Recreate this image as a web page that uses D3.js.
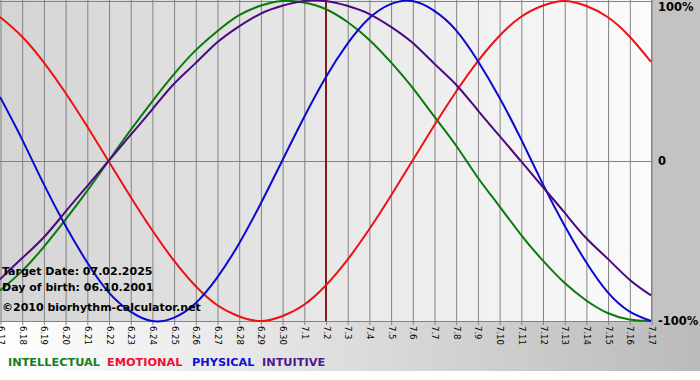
<!DOCTYPE html>
<html><head><meta charset="utf-8">
<script src="https://cdn.jsdelivr.net/npm/d3@7"></script>
<style>body{margin:0;background:#fff}svg{display:block}</style>
</head><body><svg id="c" width="700" height="380"></svg>
<script>
const dates = ["6.17","6.18","6.19","6.20","6.21","6.22","6.23","6.24","6.25","6.26","6.27","6.28","6.29","6.30",
  "7.1","7.2","7.3","7.4","7.5","7.6","7.7","7.8","7.9","7.10","7.11","7.12","7.13","7.14","7.15","7.16","7.17"];
const intellectual = [-0.81,-0.69,-0.54,-0.37,-0.19,0,0.19,0.37,0.54,0.69,0.81,0.91,0.97,1.00,0.99,0.95,0.87,0.76,0.62,0.46,0.28,0.10,-0.10,-0.28,-0.46,-0.62,-0.76,-0.87,-0.95,-0.99,-1.00];
const emotional = [0.90,0.78,0.62,0.43,0.22,0,-0.22,-0.43,-0.62,-0.78,-0.90,-0.97,-1.00,-0.97,-0.90,-0.78,-0.62,-0.43,-0.22,0,0.22,0.43,0.62,0.78,0.90,0.97,1.00,0.97,0.90,0.78,0.62];
const physical = [0.40,0.14,-0.14,-0.40,-0.63,-0.82,-0.94,-1.00,-0.98,-0.89,-0.73,-0.52,-0.27,0,0.27,0.52,0.73,0.89,0.98,1.00,0.94,0.82,0.63,0.40,0.14,-0.14,-0.40,-0.63,-0.82,-0.94,-1.00];
const intuitive = [-0.74,-0.61,-0.48,-0.32,-0.16,0,0.16,0.32,0.48,0.61,0.74,0.84,0.92,0.97,1.00,1.00,0.97,0.92,0.84,0.74,0.61,0.48,0.32,0.16,0,-0.16,-0.32,-0.48,-0.61,-0.74,-0.84];
const seriesNames = ["INTELLECTUAL","EMOTIONAL","PHYSICAL","INTUITIVE"];
const yTickValues = [1, 0, -1];
const yTickLabels = ["100%", "0", "-100%"];
const targetDate = "7.2";
const infoLines = ["Target Date: 07.02.2025", "Day of birth: 06.10.2001", "\u00a92010 biorhythm-calculator.net"];

const colors = ["#0b7a0b", "#ee1111", "#0a0ad0", "#4b0a82"];
const legendColors = ["#16801e", "#ec1030", "#1010d0", "#4b1890"];
const seriesData = [intellectual, emotional, physical, intuitive];

const W = 700, plotR = 651, plotT = 1, plotB = 321, stripB = 371;
const svg = d3.select("#c");
const defs = svg.append("defs");
const g1 = defs.append("linearGradient").attr("id","plotbg").attr("x1","0").attr("x2","1").attr("y1","0").attr("y2","0");
g1.append("stop").attr("offset","0").attr("stop-color","#d4d4d4");
g1.append("stop").attr("offset","1").attr("stop-color","#fbfbfb");
const g2 = defs.append("linearGradient").attr("id","stripbg").attr("x1","0").attr("x2","1").attr("y1","0").attr("y2","0");
g2.append("stop").attr("offset","0").attr("stop-color","#ffffff");
g2.append("stop").attr("offset","1").attr("stop-color","#bababa");

svg.append("rect").attr("x",0).attr("y",plotB).attr("width",W).attr("height",stripB-plotB).attr("fill","url(#stripbg)");
svg.append("rect").attr("x",plotR).attr("y",0).attr("width",W-plotR).attr("height",plotB+1).attr("fill","#c3c3c3");
svg.append("rect").attr("x",0).attr("y",0).attr("width",plotR).attr("height",plotB).attr("fill","url(#plotbg)");

const x = d3.scalePoint().domain(dates).range([0, plotR]);
const y = d3.scaleLinear().domain([-1, 1]).range([plotB, plotT]);

// vertical grid + date labels
const xAxis = svg.append("g").attr("transform","translate(0.5,0)")
  .call(d3.axisBottom(x).tickSize(325).tickPadding(0));
xAxis.select(".domain").remove();
xAxis.selectAll(".tick line").attr("stroke","#828282");
xAxis.selectAll(".tick text")
  .attr("x",0).attr("y",0).attr("dy","0.35em")
  .attr("transform","translate(0,326) rotate(90)")
  .attr("text-anchor","start")
  .attr("fill","#000")
  .style("font-family","'DejaVu Sans', Verdana, sans-serif")
  .style("font-size","8.5px");

// horizontal lines
svg.append("g").selectAll("line").data(yTickValues).join("line")
  .attr("x1",0).attr("x2",plotR).attr("y1",d=>Math.round(y(d))+0.5).attr("y2",d=>Math.round(y(d))+0.5)
  .attr("stroke","#828282");
svg.append("line").attr("x1",plotR+0.5).attr("x2",plotR+0.5).attr("y1",0).attr("y2",plotB).attr("stroke","#828282");

// y labels
svg.append("g").selectAll("text").data(yTickValues).join("text")
  .attr("x",658).attr("y",(d,i)=> i===0 ? 7 : y(d)).attr("dy","0.36em")
  .text((d,i)=>yTickLabels[i])
  .attr("fill","#000")
  .style("font-family","'DejaVu Sans', Verdana, sans-serif")
  .style("font-weight","bold").style("font-size","11.5px");

// target line
svg.append("line").attr("x1",x(targetDate)+0.5).attr("x2",x(targetDate)+0.5).attr("y1",0).attr("y2",plotB)
  .attr("stroke","#7e1c1c").attr("stroke-width",2);

// curves
const line = d3.line().x((d,i)=>x(dates[i])).y(d=>y(d)).curve(d3.curveNatural);
svg.append("g").selectAll("path").data(seriesData).join("path")
  .attr("d", line).attr("fill","none")
  .attr("stroke",(d,i)=>colors[i]).attr("stroke-width",2).attr("stroke-linejoin","round");

// info text
svg.append("g").selectAll("text").data(infoLines).join("text")
  .attr("x",2).attr("y",(d,i)=>[275,291,311][i])
  .text(d=>d).attr("fill","#000")
  .style("font-family","'DejaVu Sans', Verdana, sans-serif")
  .style("font-weight","bold").style("font-size","11px");

// legend
svg.append("g").selectAll("text").data(seriesNames).join("text")
  .attr("x",(d,i)=>[8,107,192,262][i]).attr("y",366)
  .text(d=>d).attr("fill",(d,i)=>legendColors[i])
  .style("font-family","'DejaVu Sans', Verdana, sans-serif")
  .style("font-weight","bold").style("font-size","11.3px");
</script></body></html>
